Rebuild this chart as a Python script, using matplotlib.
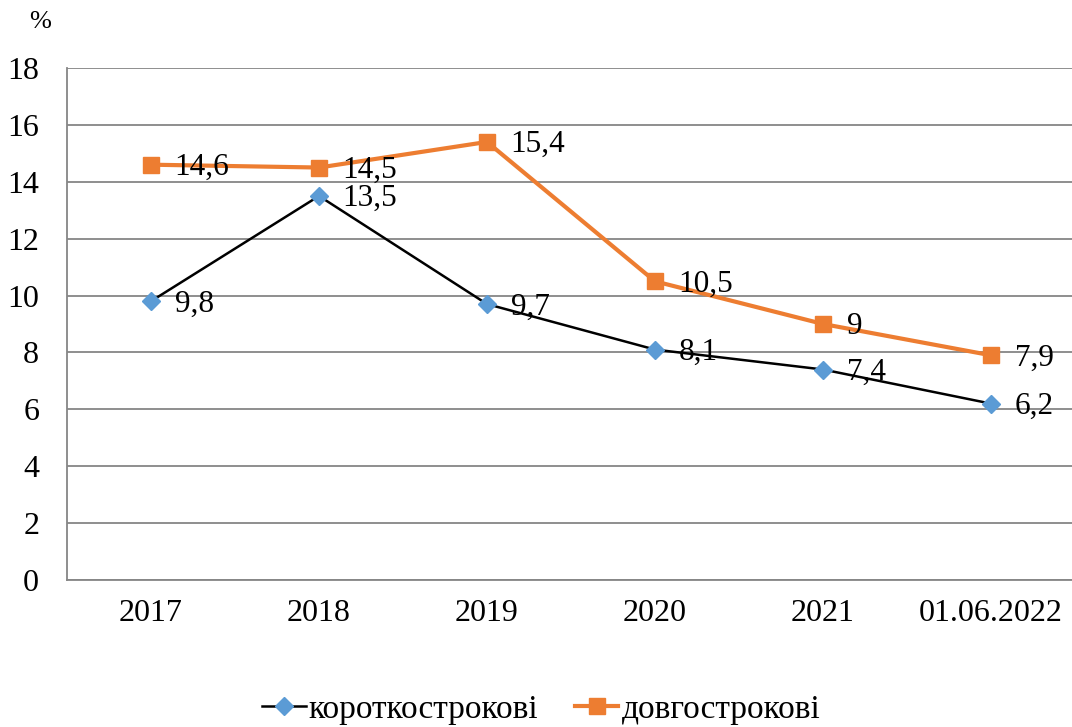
import matplotlib.pyplot as plt
from matplotlib.lines import Line2D

plt.rcParams['font.family'] = ['Liberation Serif', 'DejaVu Serif']

categories = ['2017', '2018', '2019', '2020', '2021', '01.06.2022']
short_term = [9.8, 13.5, 9.7, 8.1, 7.4, 6.2]
long_term = [14.6, 14.5, 15.4, 10.5, 9.0, 7.9]
short_labels = ['9,8', '13,5', '9,7', '8,1', '7,4', '6,2']
long_labels = ['14,6', '14,5', '15,4', '10,5', '9', '7,9']

fig = plt.figure(figsize=(10.72, 7.27), dpi=100)
ax = fig.add_axes([0.0625, 0.2022, 0.9403, 0.7043])

x = list(range(len(categories)))

ax.plot(x, long_term, color='#ED7D31', linewidth=3.0, marker='s', markersize=11,
        markerfacecolor='#ED7D31', markeredgecolor='#ED7D31', zorder=3, clip_on=False)
ax.plot(x, short_term, color='black', linewidth=1.8, marker='D', markersize=9.5,
        markerfacecolor='#5B9BD5', markeredgecolor='#5B9BD5', zorder=4, clip_on=False)

for i in x:
    ax.annotate(long_labels[i], (i, long_term[i]), xytext=(17, -2), textcoords='offset points',
                ha='left', va='center', fontsize=22.5)
    ax.annotate(short_labels[i], (i, short_term[i]), xytext=(17, -2), textcoords='offset points',
                ha='left', va='center', fontsize=22.5)

ax.set_xlim(-0.5, 5.5)
ax.set_ylim(0, 18)
ax.set_yticks(range(0, 19, 2))
ax.set_xticks(x)
ax.set_xticklabels(categories)
ax.tick_params(axis='both', length=0, labelsize=23)
ax.tick_params(axis='x', pad=14)
ax.tick_params(axis='y', pad=20)
ax.grid(axis='y', color='#868686', linewidth=1.3)
ax.set_axisbelow(True)
for s in ['top', 'right']:
    ax.spines[s].set_visible(False)
ax.spines['left'].set_color('#868686')
ax.spines['bottom'].set_color('#868686')
ax.spines['left'].set_linewidth(1.3)
ax.spines['bottom'].set_linewidth(1.3)

fig.text(0.037, 0.97, '%', fontsize=19, ha='center', va='center')

handles = [
    Line2D([0], [0], color='black', linewidth=1.8, marker='D', markersize=9.5,
           markerfacecolor='#5B9BD5', markeredgecolor='#5B9BD5'),
    Line2D([0], [0], color='#ED7D31', linewidth=3.0, marker='s', markersize=11,
           markerfacecolor='#ED7D31', markeredgecolor='#ED7D31'),
]
fig.legend(handles, ['короткострокові', 'довгострокові'], loc='lower center',
           bbox_to_anchor=(0.505, -0.029), ncol=2, frameon=False, fontsize=24,
           handlelength=1.3, handletextpad=0.1, columnspacing=1.1,
           borderpad=0.2)

fig.savefig('out.png', dpi=100)
